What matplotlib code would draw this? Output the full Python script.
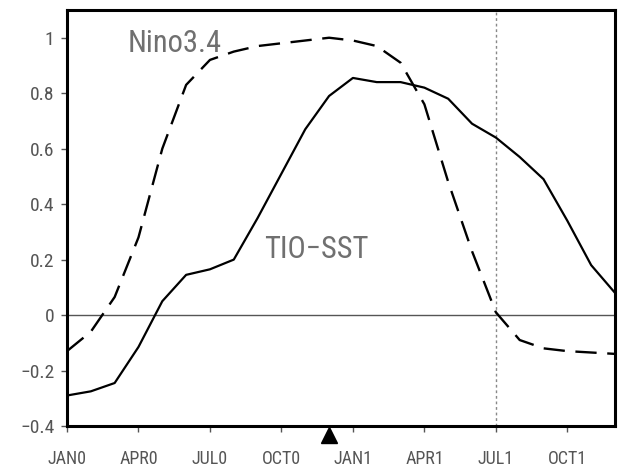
import numpy as np
import matplotlib
matplotlib.use("Agg")
import matplotlib.pyplot as plt

# 月份 0..23 (JAN0 .. DEC1)
months = list(range(24))
nino34 = [-0.13, -0.06, 0.065, 0.28, 0.60, 0.83, 0.92, 0.95, 0.97, 0.98, 0.99, 1.0,
          0.99, 0.97, 0.91, 0.76, 0.48, 0.23, 0.01, -0.09, -0.12, -0.13, -0.135, -0.14]
tio_sst = [-0.29, -0.275, -0.245, -0.115, 0.05, 0.145, 0.165, 0.20, 0.35, 0.51, 0.67, 0.79,
           0.855, 0.84, 0.84, 0.82, 0.78, 0.69, 0.64, 0.57, 0.49, 0.34, 0.18, 0.08]
xtick_pos = [0, 3, 6, 9, 12, 15, 18, 21]
xtick_labels = ["JAN0", "APR0", "JUL0", "OCT0", "JAN1", "APR1", "JUL1", "OCT1"]
ytick_pos = [-0.4, -0.2, 0, 0.2, 0.4, 0.6, 0.8, 1]
ytick_labels = ["\u22120.4", "\u22120.2", "0", "0.2", "0.4", "0.6", "0.8", "1"]
peak_month = 11
onset_month = 18

narrow = ["Roboto Condensed", "Sofia Sans Condensed", "DejaVu Sans"]

fig = plt.figure(figsize=(6.29, 4.69), dpi=100)
ax = fig.add_axes([67 / 629, 43 / 469, 548 / 629, 416 / 469])

ax.axhline(0, color="#555555", lw=1.0, zorder=1)
ax.axvline(onset_month, color="#888888", lw=1.0, ls=(0, (2, 2)), zorder=1)

ax.plot(months, nino34, color="black", lw=1.7, ls=(0, (9, 4.5)), zorder=3)
ax.plot(months, tio_sst, color="black", lw=1.6, zorder=3)

ax.text(2.56, 0.95, "Nino3.4", fontsize=22, color="#707070", family=narrow)
ax.text(8.25, 0.206, "TIO\u2212SST", fontsize=22, color="#707070", family=narrow)

# 峰值月标记
ax.plot([peak_month], [-0.022], marker="^", color="black", markersize=11,
        transform=ax.get_xaxis_transform(), clip_on=False, zorder=5)

ax.set_xlim(0, 23)
ax.set_ylim(-0.4, 1.1)
ax.set_xticks(xtick_pos)
ax.set_xticklabels(xtick_labels, family=narrow, fontsize=13, color="#555555")
ax.set_yticks(ytick_pos)
ax.set_yticklabels(ytick_labels, family=narrow, fontsize=14, color="#555555")
ax.tick_params(axis="x", direction="out", length=4, width=1, pad=13, color="#555555")
ax.tick_params(axis="y", direction="out", length=4, width=1, pad=5, color="#555555")
for s in ax.spines.values():
    s.set_linewidth(2.2)

fig.savefig("out.png", dpi=100)
